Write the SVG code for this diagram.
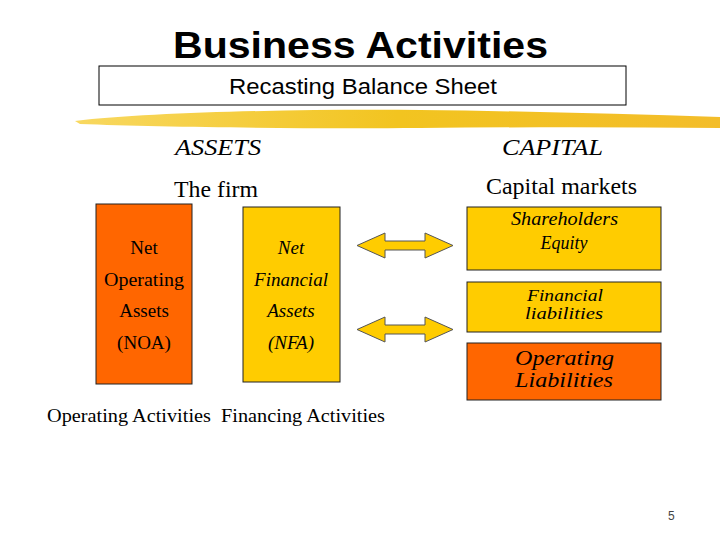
<svg xmlns="http://www.w3.org/2000/svg" width="720" height="540" viewBox="0 0 720 540">
<style>
.serif{font-family:"Liberation Serif","Times New Roman",serif;fill:#000}
.it{font-style:italic}
.box{stroke:#222;stroke-width:1}
.arr{fill:#ffcc00;stroke:#555;stroke-width:1}
</style>
<defs>
<linearGradient id="brush" x1="0" x2="1" y1="0" y2="0">
<stop offset="0" stop-color="#f8d860"/>
<stop offset="0.5" stop-color="#f2c420"/>
<stop offset="1" stop-color="#f3bd2a"/>
</linearGradient>
</defs>
<rect width="720" height="540" fill="#fff"/>
<text x="173" y="58" textLength="375" lengthAdjust="spacingAndGlyphs" font-family="Liberation Sans,Arial,sans-serif" font-weight="bold" font-size="37">Business Activities</text>
<g id="header">
<rect x="99" y="66" width="527" height="39" fill="#fff" stroke="#000" stroke-width="1"/>
<text x="229" y="94" textLength="268" lengthAdjust="spacingAndGlyphs" font-family="Liberation Sans,Arial,sans-serif" font-size="22">Recasting Balance Sheet</text>
</g>
<path d="M75 121 C150 112 300 109 420 110 C520 111 620 114 720 117 L720 128 C620 127 520 127 420 128 C300 129 160 127 80 124 Z" fill="url(#brush)"/>
<text class="serif it" x="175" y="155" textLength="86" lengthAdjust="spacingAndGlyphs" font-size="23">ASSETS</text>
<text class="serif it" x="502" y="155" textLength="101" lengthAdjust="spacingAndGlyphs" font-size="23">CAPITAL</text>
<text class="serif" x="174" y="197" textLength="84" lengthAdjust="spacingAndGlyphs" font-size="23">The firm</text>
<text class="serif" x="486" y="194" textLength="151" lengthAdjust="spacingAndGlyphs" font-size="23">Capital markets</text>
<g id="noa">
<rect class="box" x="96" y="204" width="96" height="180" fill="#ff6600"/>
<text class="serif" x="144" y="254" text-anchor="middle" font-size="19">Net</text>
<text class="serif" x="104" y="286" textLength="80" lengthAdjust="spacingAndGlyphs" font-size="19">Operating</text>
<text class="serif" x="144" y="317" text-anchor="middle" font-size="19">Assets</text>
<text class="serif" x="144" y="349" text-anchor="middle" font-size="19">(NOA)</text>
</g>
<g id="nfa">
<rect class="box" x="243" y="207" width="97" height="175" fill="#ffcc00"/>
<text class="serif it" x="291" y="254" text-anchor="middle" font-size="19">Net</text>
<text class="serif it" x="291" y="286" text-anchor="middle" font-size="19">Financial</text>
<text class="serif it" x="291" y="317" text-anchor="middle" font-size="19">Assets</text>
<text class="serif it" x="291" y="349" text-anchor="middle" font-size="19">(NFA)</text>
</g>
<g id="equity">
<rect class="box" x="467" y="207" width="194" height="63" fill="#ffcc00"/>
<text class="serif it" x="511" y="225" textLength="107" lengthAdjust="spacingAndGlyphs" font-size="18">Shareholders</text>
<text class="serif it" x="564" y="249" text-anchor="middle" font-size="18">Equity</text>
</g>
<g id="finliab">
<rect class="box" x="467" y="282" width="194" height="50" fill="#ffcc00"/>
<text class="serif it" x="527" y="301" textLength="76" lengthAdjust="spacingAndGlyphs" font-size="16">Financial</text>
<text class="serif it" x="525" y="319" textLength="78" lengthAdjust="spacingAndGlyphs" font-size="16">liabilities</text>
</g>
<g id="opliab">
<rect class="box" x="467" y="343" width="194" height="57" fill="#ff6600"/>
<text class="serif it" x="515" y="365" textLength="99" lengthAdjust="spacingAndGlyphs" font-size="21">Operating</text>
<text class="serif it" x="515" y="387" textLength="98" lengthAdjust="spacingAndGlyphs" font-size="21">Liabilities</text>
</g>
<g id="connectors">
<path class="arr" d="M357 245.5 L385 233 L385 241 L425 241 L425 233 L453 245.5 L425 258 L425 250 L385 250 L385 258 Z"/>
<path class="arr" d="M357 329.5 L385 317 L385 325 L425 325 L425 317 L453 329.5 L425 342 L425 334 L385 334 L385 342 Z"/>
</g>
<text class="serif" x="47" y="422" textLength="338" lengthAdjust="spacingAndGlyphs" font-size="19" xml:space="preserve">Operating Activities  Financing Activities</text>
<text x="668" y="520" font-family="Liberation Sans,Arial,sans-serif" font-size="12" fill="#444">5</text>
</svg>
